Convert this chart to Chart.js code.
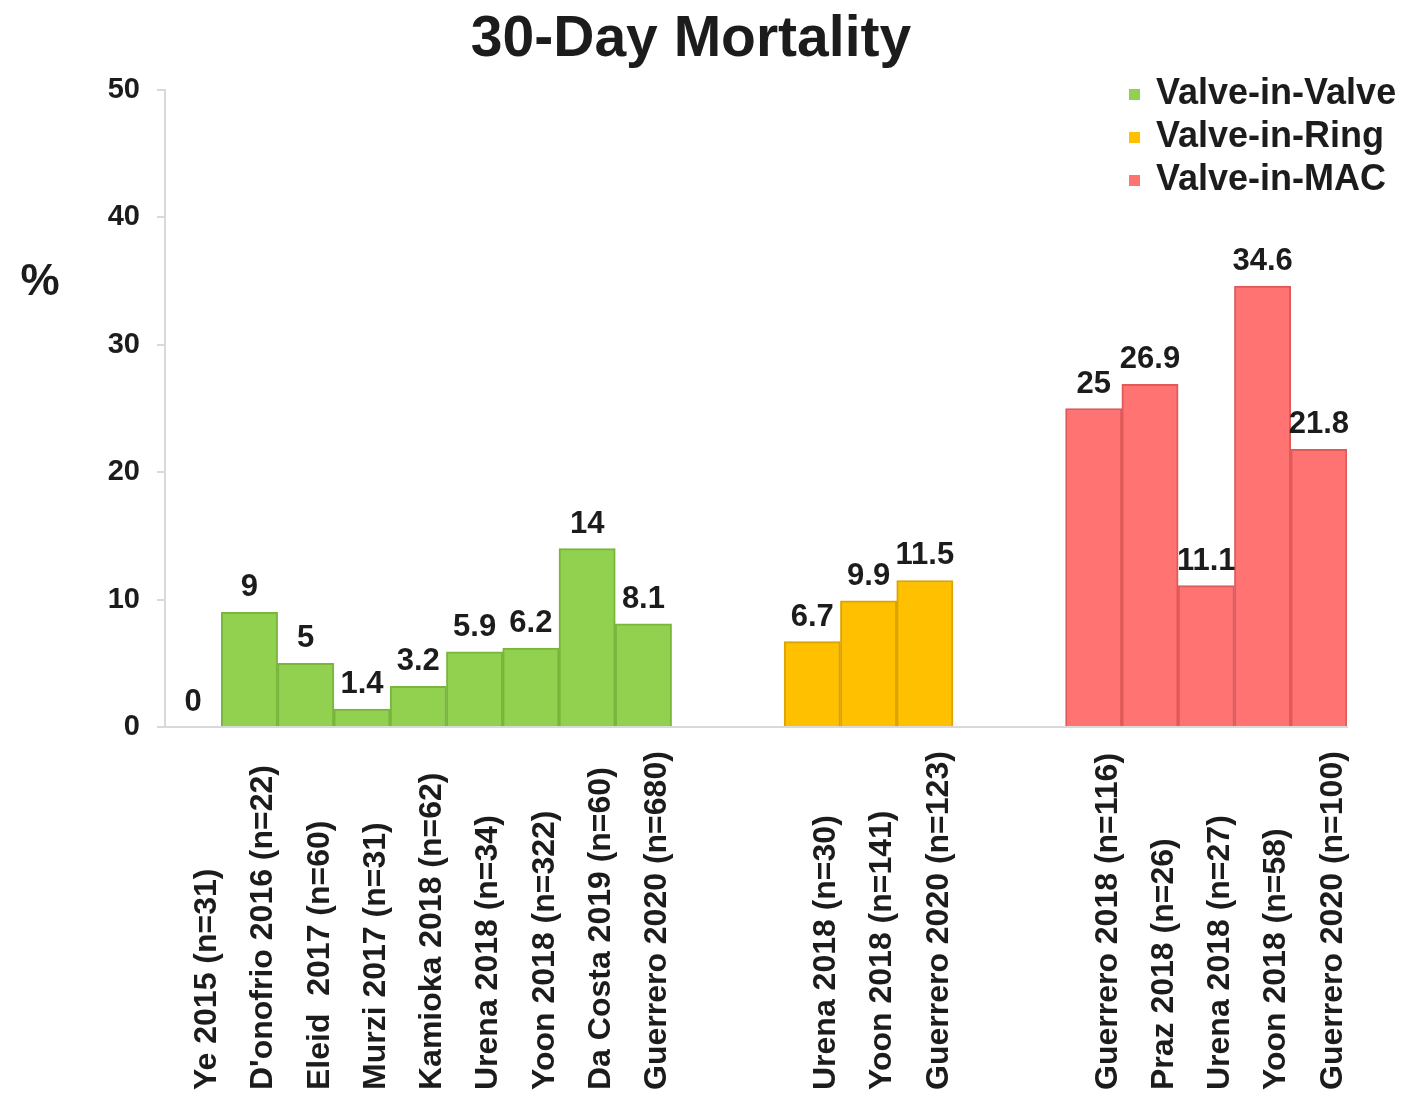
<!DOCTYPE html>
<html>
<head>
<meta charset="utf-8">
<title>30-Day Mortality</title>
<script src="https://cdn.jsdelivr.net/npm/chart.js@4"></script>
<style>
  html, body { margin: 0; padding: 0; background: #fff; }
  #mort { display: block; }
</style>
</head>
<body>
<canvas id="mort" width="1405" height="1098"></canvas>
<script>
// studies, with two empty slots between each group
const studies = [
  "Ye 2015 (n=31)", "D'onofrio 2016 (n=22)", "Eleid  2017 (n=60)", "Murzi 2017 (n=31)",
  "Kamioka 2018 (n=62)", "Urena 2018 (n=34)", "Yoon 2018 (n=322)", "Da Costa 2019 (n=60)",
  "Guerrero 2020 (n=680)",
  "", "",
  "Urena 2018 (n=30)", "Yoon 2018 (n=141)", "Guerrero 2020 (n=123)",
  "", "",
  "Guerrero 2018 (n=116)", "Praz 2018 (n=26)", "Urena 2018 (n=27)", "Yoon 2018 (n=58)",
  "Guerrero 2020 (n=100)"
];
const valveInValve = [0, 9, 5, 1.4, 3.2, 5.9, 6.2, 14, 8.1];
const valveInRing = [6.7, 9.9, 11.5];
const valveInMac = [25, 26.9, 11.1, 34.6, 21.8];
const yTicks = [0, 10, 20, 30, 40, 50];

const font = "'Liberation Sans', Arial, sans-serif";
const ink = '#1c1c1c';

// put each group's values in its own slots, null elsewhere
const pad = (n) => Array(n).fill(null);
const vivData = valveInValve.concat(pad(12));
const virData = pad(11).concat(valveInRing, pad(7));
const vimData = pad(16).concat(valveInMac);

const barLabels = {
  id: 'barLabels',
  afterDatasetsDraw(chart) {
    const ctx = chart.ctx;
    ctx.save();
    ctx.font = 'bold 31px ' + font;
    ctx.fillStyle = ink;
    ctx.textAlign = 'center';
    ctx.textBaseline = 'alphabetic';
    chart.data.datasets.forEach((ds, i) => {
      chart.getDatasetMeta(i).data.forEach((bar, j) => {
        const v = ds.data[j];
        if (v === null) return;
        ctx.fillText(String(v), bar.x, bar.y - 16);
      });
    });
    ctx.restore();
  }
};

// title, "%" label, study names (bottom aligned, rotated) and the legend
const extras = {
  id: 'extras',
  afterDraw(chart) {
    const ctx = chart.ctx;
    const xs = chart.scales.x;
    ctx.save();
    ctx.fillStyle = ink;
    ctx.textAlign = 'center';
    ctx.textBaseline = 'middle';
    ctx.font = 'bold 57px ' + font;
    ctx.fillText('30-Day Mortality', 691, 40);
    ctx.font = 'bold 44px ' + font;
    ctx.fillText('%', 40, 283);

    ctx.font = 'bold 32px ' + font;
    ctx.textAlign = 'left';
    studies.forEach((name, i) => {
      if (!name) return;
      ctx.save();
      ctx.translate(xs.getPixelForTick(i) + 14, 1090);
      ctx.rotate(-Math.PI / 2);
      ctx.fillText(name, 0, 0);
      ctx.restore();
    });

    ctx.font = 'bold 36px ' + font;
    chart.data.datasets.forEach((ds, i) => {
      const y = 94 + i * 43;
      ctx.fillStyle = ds.backgroundColor;
      ctx.fillRect(1129, y - 5, 11, 11);
      ctx.fillStyle = ink;
      ctx.fillText(ds.label, 1156, y);
    });
    ctx.restore();
  }
};

new Chart(document.getElementById('mort'), {
  type: 'bar',
  data: {
    labels: studies,
    datasets: [
      { label: 'Valve-in-Valve', data: vivData, backgroundColor: '#92D050', borderColor: '#79B63C' },
      { label: 'Valve-in-Ring', data: virData, backgroundColor: '#FFC000', borderColor: '#DDA400' },
      { label: 'Valve-in-MAC', data: vimData, backgroundColor: '#FF7373', borderColor: '#E05A5A' }
    ]
  },
  options: {
    responsive: false,
    animation: false,
    layout: { padding: { left: 0, right: 58, top: 90, bottom: 0 } },
    datasets: {
      bar: {
        grouped: false,
        categoryPercentage: 1,
        barPercentage: 1,
        borderWidth: 2,
        skipNull: true
      }
    },
    plugins: {
      legend: { display: false },
      tooltip: { enabled: false },
      title: { display: false }
    },
    scales: {
      x: {
        grid: { display: true, drawOnChartArea: false, drawTicks: false },
        border: { color: '#d9d9d9', width: 2 },
        ticks: { display: false },
        afterFit(scale) { scale.height = 371; }
      },
      y: {
        min: 0,
        max: 50,
        afterBuildTicks(scale) { scale.ticks = yTicks.map(v => ({ value: v })); },
        grid: { drawOnChartArea: false, tickLength: 8, color: '#d9d9d9', lineWidth: 2 },
        border: { color: '#d9d9d9', width: 2 },
        ticks: {
          padding: 17,
          color: ink,
          font: { family: font, size: 29, weight: 'bold' }
        },
        afterFit(scale) { scale.width = 165; }
      }
    }
  },
  plugins: [barLabels, extras]
});
</script>
</body>
</html>
